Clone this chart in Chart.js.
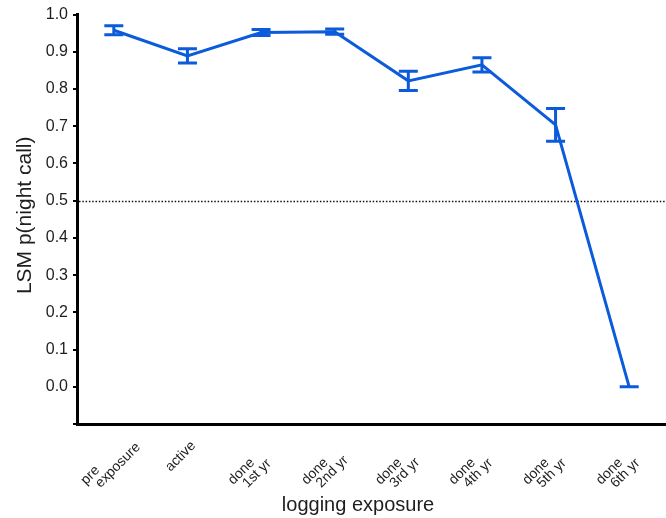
<!DOCTYPE html>
<html>
<head>
<meta charset="utf-8">
<script src="https://cdn.jsdelivr.net/npm/chart.js@4/dist/chart.umd.min.js"></script>
<style>
  html, body { margin: 0; padding: 0; background: #fff; }
  canvas { display: block; }
</style>
</head>
<body>
<canvas id="chart" width="666" height="518"></canvas>
<script>
// ---- data ----
const categories = [
  ['pre', 'exposure'], 'active', ['done', '1st yr'], ['done', '2nd yr'],
  ['done', '3rd yr'], ['done', '4th yr'], ['done', '5th yr'], ['done', '6th yr'],
];
const lsmValues = [0.958, 0.889, 0.952, 0.954, 0.822, 0.865, 0.704, 0.0];
const lsmErrors = [0.012, 0.019, 0.008, 0.007, 0.026, 0.019, 0.044, 0.0];
const yTicks = [-0.1, 0.0, 0.1, 0.2, 0.3, 0.4, 0.5, 0.6, 0.7, 0.8, 0.9, 1.0];
const referenceLevel = 0.5;

const BLUE = '#0b5bdb';
const TEXT = '#1e1e1e';
const FONT = "'Liberation Sans', Arial, sans-serif";

// error bars with caps, drawn through the scales
const errorBars = {
  id: 'errorBars',
  afterDatasetsDraw(chart) {
    const { ctx, scales: { x, y } } = chart;
    ctx.save();
    ctx.strokeStyle = BLUE;
    ctx.lineWidth = 3;
    lsmValues.forEach((v, i) => {
      const px = x.getPixelForValue(i);
      const lo = y.getPixelForValue(v - lsmErrors[i]);
      const hi = y.getPixelForValue(v + lsmErrors[i]);
      const half = 9.5;
      ctx.beginPath();
      ctx.moveTo(px, lo); ctx.lineTo(px, hi);
      ctx.moveTo(px - half, lo); ctx.lineTo(px + half, lo);
      ctx.moveTo(px - half, hi); ctx.lineTo(px + half, hi);
      ctx.stroke();
    });
    ctx.restore();
  },
};

// dotted reference line at p = 0.5
const refLine = {
  id: 'refLine',
  beforeDatasetsDraw(chart) {
    const { ctx, chartArea, scales: { y } } = chart;
    const py = Math.round(y.getPixelForValue(referenceLevel)) + 0.5;
    ctx.save();
    ctx.strokeStyle = '#111';
    ctx.lineWidth = 1.5;
    ctx.setLineDash([1.5, 1.8]);
    ctx.beginPath();
    ctx.moveTo(chartArea.left + 2, py);
    ctx.lineTo(chartArea.right, py);
    ctx.stroke();
    ctx.restore();
  },
};

// rotated category labels; second line sits below and a little to the right
const xLabels = {
  id: 'xLabels',
  afterDraw(chart) {
    const { ctx, chartArea, scales: { x } } = chart;
    ctx.save();
    ctx.fillStyle = TEXT;
    ctx.font = `14px ${FONT}`;
    ctx.textAlign = 'left';
    ctx.textBaseline = 'alphabetic';
    categories.forEach((label, i) => {
      const lines = Array.isArray(label) ? label : [label];
      ctx.save();
      ctx.translate(x.getPixelForValue(i), chartArea.bottom);
      ctx.rotate(-Math.PI / 4);
      if (lines.length === 1) {
        ctx.fillText(lines[0], -46, 22);
      } else {
        ctx.fillText(lines[0], -63, 23.5);
        ctx.fillText(lines[1], -55, 36);
      }
      ctx.restore();
    });
    ctx.restore();
  },
};

// axis titles (x title sits centred on the whole figure, not the plot)
const axisTitles = {
  id: 'axisTitles',
  afterDraw(chart) {
    const { ctx, chartArea } = chart;
    ctx.save();
    ctx.fillStyle = TEXT;
    ctx.textAlign = 'center';
    ctx.textBaseline = 'middle';
    ctx.font = `20px ${FONT}`;
    ctx.fillText('logging exposure', 358, 505);
    ctx.translate(25, (chartArea.top + chartArea.bottom) / 2 - 4);
    ctx.rotate(-Math.PI / 2);
    ctx.font = `21px ${FONT}`;
    ctx.fillText('LSM p(night call)', 0, 0);
    ctx.restore();
  },
};

new Chart(document.getElementById('chart'), {
  type: 'line',
  data: {
    labels: categories,
    datasets: [{
      data: lsmValues,
      borderColor: BLUE,
      borderWidth: 3,
      pointRadius: 0,
      tension: 0,
      fill: false,
    }],
  },
  options: {
    responsive: false,
    animation: false,
    devicePixelRatio: 1,
    layout: { padding: { top: 8, right: 0, left: 0, bottom: 0 } },
    plugins: { legend: { display: false }, tooltip: { enabled: false } },
    scales: {
      x: {
        offset: true,
        grid: { display: false, drawTicks: false },
        border: { display: true, color: '#000', width: 3 },
        ticks: { display: false, autoSkip: false },
        afterFit(scale) { scale.height = 94; },
      },
      y: {
        min: -0.1,
        max: 1.0,
        afterBuildTicks(scale) { scale.ticks = yTicks.map((v) => ({ value: v })); },
        grid: { display: true, drawOnChartArea: false, drawTicks: true, tickLength: 4, color: '#000', lineWidth: 2 },
        border: { display: true, color: '#000', width: 3 },
        ticks: {
          color: TEXT,
          font: { family: FONT, size: 16 },
          padding: 5,
          callback: (v) => (v < 0 ? '' : Number(v).toFixed(1)),
        },
        afterFit(scale) { scale.width = 77; },
      },
    },
  },
  plugins: [refLine, errorBars, xLabels, axisTitles],
});
</script>
</body>
</html>
